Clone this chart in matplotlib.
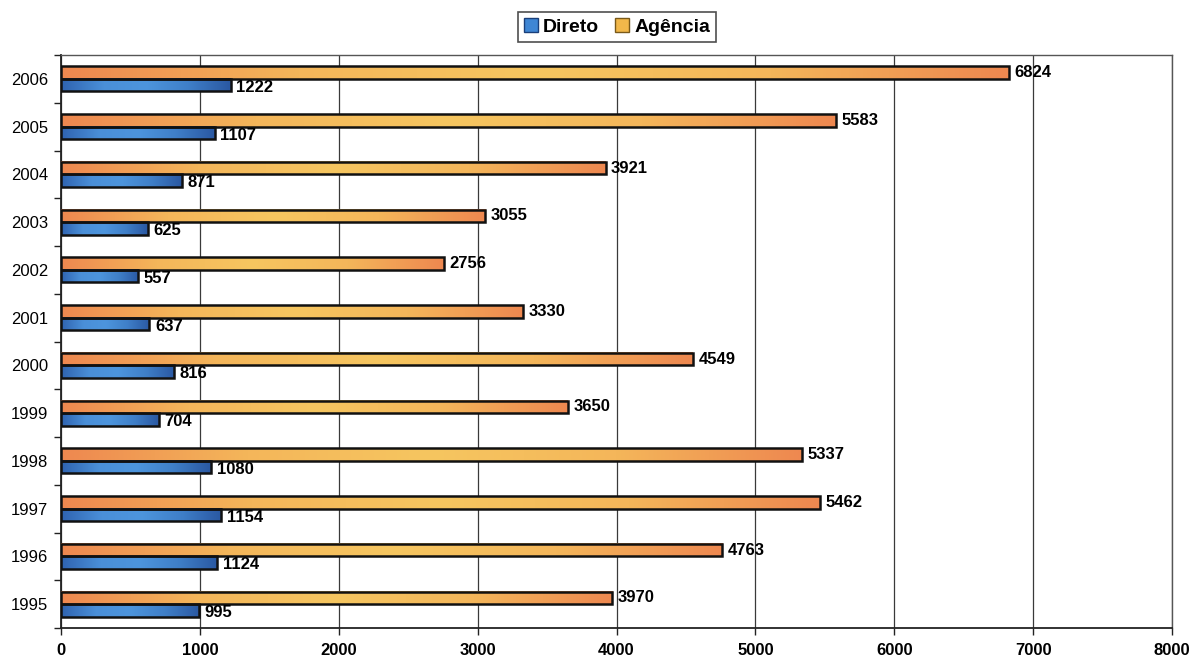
import numpy as np
import matplotlib
matplotlib.use("Agg")
import matplotlib.pyplot as plt
from matplotlib.colors import LinearSegmentedColormap
from matplotlib.patches import Patch

years = ["1995", "1996", "1997", "1998", "1999", "2000",
         "2001", "2002", "2003", "2004", "2005", "2006"]
direto = [995, 1124, 1154, 1080, 704, 816, 637, 557, 625, 871, 1107, 1222]
agencia = [3970, 4763, 5462, 5337, 3650, 4549, 3330, 2756, 3055, 3921, 5583, 6824]
x_ticks = [0, 1000, 2000, 3000, 4000, 5000, 6000, 7000, 8000]

plt.rcParams["font.family"] = ["Liberation Sans", "DejaVu Sans"]

fig = plt.figure(figsize=(11.94, 6.59), dpi=100)
ax = fig.add_axes([61 / 1194, 1 - 628 / 659, 1111 / 1194, 573 / 659])

pos = np.arange(len(years))
h = 0.26

orange_cmap = LinearSegmentedColormap.from_list(
    "ag", ["#ee8850", "#f4b65a", "#f6c660", "#f4b65a", "#ee8850"])
blue_cmap = LinearSegmentedColormap.from_list(
    "di", ["#2f63b0", "#4a8fd8", "#4d95dd", "#3f7fc8", "#2a58a2"])

bars_a = ax.barh(pos + h / 2, agencia, height=h, color="none",
                 edgecolor="#111111", linewidth=1.8, zorder=4)
bars_d = ax.barh(pos - h / 2, direto, height=h, color="none",
                 edgecolor="#111111", linewidth=1.8, zorder=4)

grad = np.linspace(0, 1, 256).reshape(1, -1)
for bars, cmap in ((bars_a, orange_cmap), (bars_d, blue_cmap)):
    for rect in bars:
        x0, y0 = rect.get_x(), rect.get_y()
        w, hh = rect.get_width(), rect.get_height()
        ax.imshow(grad, cmap=cmap, aspect="auto", interpolation="bicubic",
                  extent=[x0, x0 + w, y0, y0 + hh], zorder=3)

for rect, v in zip(bars_a, agencia):
    ax.text(v + 40, rect.get_y() + rect.get_height() / 2, str(v),
            ha="left", va="center", fontsize=12, fontweight="bold", zorder=5)
for rect, v in zip(bars_d, direto):
    ax.text(v + 40, rect.get_y() + rect.get_height() / 2 - 0.05, str(v),
            ha="left", va="center", fontsize=12, fontweight="bold", zorder=5)

ax.set_xlim(0, 8000)
ax.set_ylim(-0.5, len(years) - 0.5)
ax.set_xticks(x_ticks)
ax.set_xticklabels([str(t) for t in x_ticks], fontsize=12, fontweight="bold")
ax.set_yticks(pos)
ax.set_yticklabels(years, fontsize=12)
ax.set_yticks(np.arange(len(years) + 1) - 0.5, minor=True)
ax.tick_params(axis="y", which="major", length=0, pad=9)
ax.tick_params(axis="y", which="minor", length=5, width=1, color="#222222")
ax.tick_params(axis="x", which="major", length=5, width=1, color="#222222", pad=6)

ax.grid(axis="x", color="#3a3a3a", linewidth=0.9, zorder=1)
ax.set_axisbelow(True)
for side in ("top", "right"):
    ax.spines[side].set_color("#555555")
    ax.spines[side].set_linewidth(1.0)
for side in ("left", "bottom"):
    ax.spines[side].set_color("#222222")
    ax.spines[side].set_linewidth(1.3)

handles = [Patch(facecolor="#3f86d4", edgecolor="#1a3f7a", label="Direto"),
           Patch(facecolor="#f2b84a", edgecolor="#7a5a1a", label="Agência")]
leg = fig.legend(handles=handles, loc="center", bbox_to_anchor=(617 / 1194, 1 - 27 / 659),
                 ncol=2, frameon=True, fancybox=False, edgecolor="#222222",
                 prop={"weight": "bold", "size": 14}, handlelength=0.75,
                 handleheight=0.75, handletextpad=0.25, columnspacing=0.8,
                 borderpad=0.3, borderaxespad=0)
leg.get_frame().set_linewidth(1.2)

fig.savefig("out.png", dpi=100, facecolor="white")
